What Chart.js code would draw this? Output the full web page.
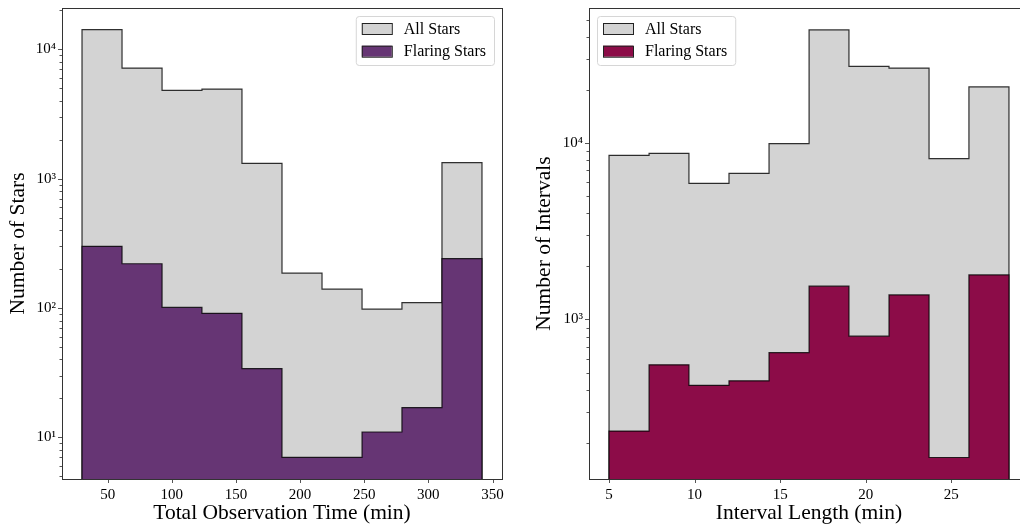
<!DOCTYPE html>
<html>
<head>
<meta charset="utf-8">
<script src="https://cdn.jsdelivr.net/npm/chart.js@4.4.1/dist/chart.umd.min.js"></script>
<style>
  html, body { margin: 0; padding: 0; background: #fff; overflow: hidden; }
  .panel { position: absolute; top: 0; }
</style>
</head>
<body>
<div class="panel" style="left:0"><canvas id="timeChart" width="510" height="524"></canvas></div>
<div class="panel" style="left:510px"><canvas id="intervalChart" width="520" height="524"></canvas></div>
<script>
// Histogram bin edges and counts
const timeEdges = [30, 61.2, 92.4, 123.5, 154.7, 185.9, 217.1, 248.3, 279.4, 310.6, 341.8];
const timeAllStars = [14200, 7170, 4820, 4930, 1315, 186, 140, 98, 110, 1330];
const timeFlaring = [300, 220, 101, 91, 34, 7, 7, 11, 17, 241];

const intervalEdges = [5, 7.34, 9.67, 12.01, 14.35, 16.69, 19.02, 21.36, 23.7, 26.03, 28.37];
const intervalAllStars = [8520, 8750, 5910, 6730, 9920, 43800, 27200, 26600, 8160, 20800];
const intervalFlaring = [233, 553, 423, 449, 648, 1545, 804, 1378, 165, 1788];

// Axis ticks
const timeTicks = [50, 100, 150, 200, 250, 300, 350];
const timeDecades = [10, 100, 1000, 10000];
const intervalTicks = [5, 10, 15, 20, 25];
const intervalDecades = [1000, 10000];

const FONT = '"Liberation Serif", "DejaVu Serif", serif';
Chart.defaults.font.family = FONT;
Chart.defaults.color = '#000';

const SUP = { '0': '\u2070', '1': '\u00b9', '2': '\u00b2', '3': '\u00b3', '4': '\u2074', '5': '\u2075' };
const powLabel = v => '10' + String(Math.round(Math.log10(v))).split('').map(c => SUP[c]).join('');

// turn edges + counts into an outline that steps along the bin tops
function stepPoints(edges, counts, floor) {
  const n = counts.length;
  const pts = [{ x: edges[0], y: floor }];
  counts.forEach((c, i) => pts.push({ x: edges[i], y: c }));
  pts.push({ x: edges[n], y: counts[n - 1] });
  pts.push({ x: edges[n], y: floor });
  return pts;
}

// spines, outward tick marks (major + log minor)
const axesDecor = {
  id: 'axesDecor',
  afterDraw(chart) {
    const { ctx, chartArea: a, scales: { x, y } } = chart;
    ctx.save();
    ctx.strokeStyle = '#555';
    ctx.lineWidth = 1;
    ctx.beginPath();
    x.ticks.forEach(t => {
      const px = Math.round(x.getPixelForValue(t.value)) + 0.5;
      ctx.moveTo(px, a.bottom); ctx.lineTo(px, a.bottom + 4);
    });
    const lo = Math.floor(Math.log10(y.min)), hi = Math.ceil(Math.log10(y.max));
    for (let e = lo; e <= hi; e++) {
      for (let k = 1; k < 10; k++) {
        const v = k * Math.pow(10, e);
        if (v < y.min || v > y.max) continue;
        const py = Math.round(y.getPixelForValue(v)) + 0.5;
        ctx.moveTo(a.left, py); ctx.lineTo(a.left - (k === 1 ? 4 : 2.5), py);
      }
    }
    ctx.stroke();
    ctx.strokeStyle = '#333';
    ctx.strokeRect(Math.round(a.left) + 0.5, Math.round(a.top) + 0.5,
      Math.round(a.right - a.left), Math.round(a.bottom - a.top));
    ctx.restore();
  }
};

// framed legend inside the plot area
const boxLegend = {
  id: 'boxLegend',
  afterDraw(chart, args, opts) {
    const { ctx, chartArea: a } = chart;
    const sets = chart.data.datasets;
    ctx.save();
    ctx.font = '16px ' + FONT;
    const textW = Math.max(...sets.map(d => ctx.measureText(d.label).width));
    const w = 6 + 30 + 12 + textW + 8, h = 49;
    const bx = opts.align === 'right' ? a.right - 8 - w : a.left + 8;
    const by = a.top + 8;
    ctx.beginPath();
    ctx.roundRect(bx + 0.5, by + 0.5, w, h, 3);
    ctx.fillStyle = 'rgba(255,255,255,0.8)';
    ctx.fill();
    ctx.strokeStyle = '#d6d6d6';
    ctx.stroke();
    sets.forEach((d, i) => {
      const cy = by + 12.5 + i * 22.7;
      ctx.fillStyle = d.backgroundColor;
      ctx.fillRect(bx + 6, cy - 5.5, 30, 11);
      ctx.strokeStyle = '#222';
      ctx.strokeRect(bx + 6.5, cy - 5, 30, 11);
      ctx.fillStyle = '#000';
      ctx.textBaseline = 'middle';
      ctx.fillText(d.label, bx + 48, cy + 1);
    });
    ctx.restore();
  }
};

function histChart(id, cfg) {
  const line = { borderColor: 'rgba(0,0,0,0.8)', borderWidth: 1.2, pointRadius: 0, stepped: true, fill: 'start' };
  return new Chart(document.getElementById(id), {
    type: 'line',
    data: {
      datasets: [
        { ...line, label: 'All Stars', data: stepPoints(cfg.edges, cfg.all, cfg.floor),
          backgroundColor: '#d3d3d3', order: 2 },
        { ...line, label: 'Flaring Stars', data: stepPoints(cfg.edges, cfg.flaring, cfg.floor),
          backgroundColor: cfg.color, order: 1 }
      ]
    },
    options: {
      responsive: false,
      animation: false,
      layout: { padding: cfg.padding },
      plugins: {
        legend: { display: false },
        tooltip: { enabled: false },
        boxLegend: { align: cfg.legendAlign }
      },
      scales: {
        x: {
          type: 'linear',
          min: cfg.xMin, max: cfg.xMax,
          grid: { display: false, drawTicks: false },
          border: { display: false },
          afterBuildTicks: s => { s.ticks = cfg.xTicks.map(v => ({ value: v })); },
          afterFit: s => { s.height = 45; s.paddingLeft = 0; s.paddingRight = 0; },
          ticks: { font: { size: 15 }, padding: 7, maxRotation: 0 },
          title: { display: true, text: cfg.xTitle, font: { size: 21.5, lineHeight: 1 }, padding: { top: 0, bottom: 0 } }
        },
        y: {
          type: 'logarithmic',
          min: cfg.yMin, max: cfg.yMax,
          grid: { display: false, drawTicks: false },
          border: { display: false },
          afterBuildTicks: s => { s.ticks = cfg.yTicks.map(v => ({ value: v })); },
          afterFit: s => { s.width = cfg.yWidth; s.paddingTop = 0; s.paddingBottom = 0; },
          ticks: { font: { size: 15 }, padding: 6, callback: v => powLabel(v) },
          title: { display: true, text: cfg.yTitle, font: { size: 21.5, lineHeight: 1.2 }, padding: { top: cfg.yTitlePad, bottom: 0 } }
        }
      }
    },
    plugins: [axesDecor, boxLegend]
  });
}

histChart('timeChart', {
  edges: timeEdges, all: timeAllStars, flaring: timeFlaring, floor: 1,
  color: '#663574',
  xMin: 14.4, xMax: 357.4, xTicks: timeTicks,
  yMin: 4.762, yMax: 20900, yTicks: timeDecades,
  yWidth: 62, yTitlePad: 5,
  padding: { top: 8, right: 8, left: 0, bottom: 0 },
  legendAlign: 'right',
  xTitle: 'Total Observation Time (min)',
  yTitle: 'Number of Stars'
});

histChart('intervalChart', {
  edges: intervalEdges, all: intervalAllStars, flaring: intervalFlaring, floor: 10,
  color: '#8c0c48',
  xMin: 3.83, xMax: 29.54, xTicks: intervalTicks,
  yMin: 124.6, yMax: 58300, yTicks: intervalDecades,
  yWidth: 79, yTitlePad: 21,
  padding: { top: 8, right: 1, left: 0, bottom: 0 },
  legendAlign: 'left',
  xTitle: 'Interval Length (min)',
  yTitle: 'Number of Intervals'
});
</script>
</body>
</html>
